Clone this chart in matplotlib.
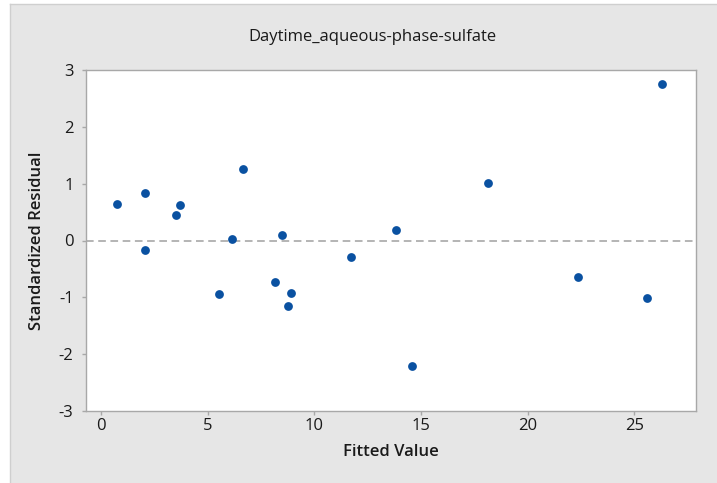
import matplotlib
matplotlib.use("Agg")
import matplotlib.pyplot as plt
from matplotlib.lines import Line2D

title = "Daytime_aqueous-phase-sulfate"
xlabel = "Fitted Value"
ylabel = "Standardized Residual"

fitted = [0.76, 2.07, 2.07, 3.51, 3.69, 5.52, 6.15, 6.67, 8.17, 8.49,
          8.79, 8.90, 11.73, 13.85, 14.59, 18.17, 22.39, 25.60, 26.32]
resid = [0.65, 0.83, -0.165, 0.45, 0.63, -0.95, 0.03, 1.26, -0.73, 0.10,
         -1.15, -0.93, -0.29, 0.19, -2.20, 1.02, -0.64, -1.02, 2.76]
xticks = [0, 5, 10, 15, 20, 25]
yticks = [-3, -2, -1, 0, 1, 2, 3]

plt.rcParams['font.family'] = ['Open Sans', 'DejaVu Sans']
plt.rcParams['axes.unicode_minus'] = False

fig = plt.figure(figsize=(7.17, 4.83), dpi=100)
fig.patch.set_facecolor('white')
from matplotlib.patches import Rectangle
panel = Rectangle((10/717, 0), 1 - 10/717, 1 - 4/483, transform=fig.transFigure,
                  facecolor='#e6e6e6', edgecolor='none', zorder=-10)
fig.patches.append(panel)
fig.lines.append(Line2D([10/717, 10/717], [0, 1 - 4/483], transform=fig.transFigure,
                        color='#cfcfcf', linewidth=1.0))
fig.lines.append(Line2D([10/717, 1], [1 - 4/483, 1 - 4/483], transform=fig.transFigure,
                        color='#cfcfcf', linewidth=1.0))

ax = fig.add_axes([86/717, 72/483, (696-86)/717, (411-70)/483])
ax.set_facecolor('white')
ax.scatter(fitted, resid, s=40, color='#0a51a1', zorder=3, linewidths=0)
ax.axhline(0, color='#a0a0a0', linestyle=(0, (5, 3)), linewidth=1.1, zorder=2)

ax.set_xlim(-0.7, 27.9)
ax.set_ylim(-3, 3)
ax.set_xticks(xticks)
ax.set_yticks(yticks)
for s in ax.spines.values():
    s.set_color('#a8a8a8')
    s.set_linewidth(1.0)
ax.tick_params(direction='out', length=3, width=1, color='#a8a8a8',
               labelsize=12, labelcolor='#1a1a1a')
ax.tick_params(axis='y', pad=6)
ax.tick_params(axis='x', pad=2)

fig.text(372/717, 1 - 37/483, title, fontsize=12, color='#1a1a1a',
         ha='center', va='center')
ax.set_xlabel(xlabel, fontsize=12, fontweight='semibold', color='#1a1a1a', labelpad=7)
ax.set_ylabel(ylabel, fontsize=12, fontweight='semibold', color='#1a1a1a', labelpad=10)

fig.savefig("out.png", dpi=100, facecolor=fig.get_facecolor())
